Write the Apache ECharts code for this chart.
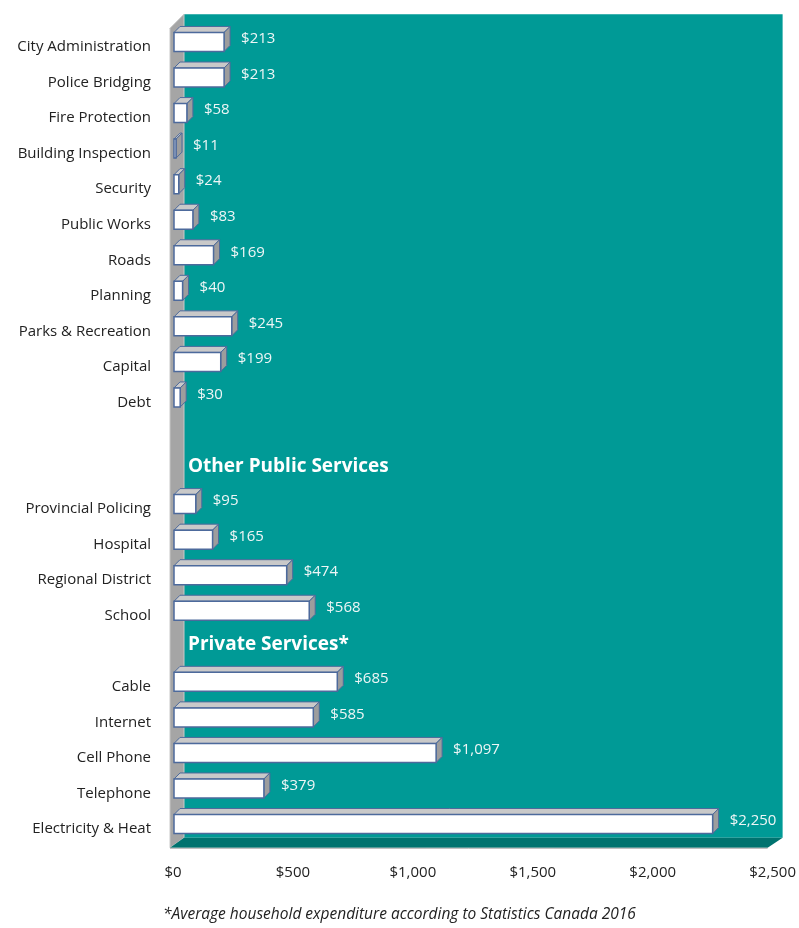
<!DOCTYPE html>
<html>
<head>
<meta charset="utf-8">
<script src="https://cdn.jsdelivr.net/npm/echarts@6/dist/echarts.min.js"></script>
<style>
html,body{margin:0;padding:0;background:#fff;}
#chart{width:799px;height:928px;}
</style>
</head>
<body>
<div id="chart"></div>
<script>
const categories = ['City Administration','Police Bridging','Fire Protection','Building Inspection','Security','Public Works','Roads','Planning','Parks & Recreation','Capital','Debt','','','Provincial Policing','Hospital','Regional District','School','','Cable','Internet','Cell Phone','Telephone','Electricity & Heat'];
const values = [213,213,58,11,24,83,169,40,245,199,30,null,null,95,165,474,568,null,685,585,1097,379,2250];
const headings = ['','','','','','','','','','','','','Other Public Services','','','','','Private Services*','','','','',''];
const xTicks = [0,500,1000,1500,2000,2500];
const footnote = '*Average household expenditure according to Statistics Canada 2016';

const FONT = 'Open Sans';
const fmt = v => '$' + v.toLocaleString('en-US');

const chart = echarts.init(document.getElementById('chart'), null, {renderer:'canvas'});

const barData = [];
values.forEach((v,i)=>{ if(v!=null) barData.push([v,i]); });
const headData = [];
headings.forEach((h,i)=>{ if(h) headData.push([0,i,h]); });

const D = 6, H = 19, YOFF = -5;
const edge = '#4d6a9c';

chart.setOption({
  animation:false,
  grid:{left:173,right:20,top:29.2,bottom:81.2,containLabel:false},
  xAxis:{type:'value',min:xTicks[0],max:xTicks[xTicks.length-1],interval:500,
    axisLine:{show:false},axisTick:{show:false},splitLine:{show:false},
    axisLabel:{formatter:fmt,color:'#222',fontFamily:FONT,fontSize:15,margin:18}},
  yAxis:{type:'category',data:categories,inverse:true,
    axisLine:{show:false},axisTick:{show:false},splitLine:{show:false},
    axisLabel:{color:'#222',fontFamily:FONT,fontSize:15,margin:22}},
  graphic:[{type:'text',left:'center',top:907,style:{text:footnote,font:'italic 15.5px "'+FONT+'"',fill:'#222'}}],
  series:[
    {type:'custom',z:1,data:[[0,0]],silent:true,
      renderItem:(params,api)=>{
        const cs = params.coordSys;
        const L=cs.x, T=cs.y, R=cs.x+cs.width, B=cs.y+cs.height;
        return {type:'group',children:[
          {type:'rect',shape:{x:L+11,y:T-15,width:R+10-(L+11),height:(B-9)-(T-15)},style:{fill:'#009a96'}},
          {type:'polygon',shape:{points:[[L-3,T-1],[L+11,T-15],[L+11,B-9],[L-3,B+1]]},style:{fill:'#a5a5a5',stroke:'#c8c8c8',lineWidth:1}},
          {type:'polygon',shape:{points:[[L-3,B+1],[L+11,B-9],[R+10,B-9],[R-5,B+1]]},style:{fill:'#00736f'}},
          {type:'line',shape:{x1:L-3,y1:B+1.5,x2:R-5,y2:B+1.5},style:{stroke:'#b0b0b0',lineWidth:1}}
        ]};
      }},
    {type:'custom',z:3,data:barData,encode:{x:0,y:1},
      renderItem:(params,api)=>{
        const v=api.value(0), i=api.value(1);
        const p0=api.coord([0,i]), p1=api.coord([v,i]);
        const x0=p0[0]+1, x1=Math.max(p1[0], x0+2);
        const yc=p0[1]+YOFF, yt=yc-H/2, yb=yc+H/2;
        return {type:'group',children:[
          {type:'polygon',shape:{points:[[x0,yt],[x0+D,yt-D],[x1+D,yt-D],[x1,yt]]},
            style:{fill:'#c9c9c9',stroke:edge,lineWidth:1}},
          {type:'polygon',shape:{points:[[x1,yt],[x1+D,yt-D],[x1+D,yb-D],[x1,yb]]},
            style:{fill:'#9d9d9d',stroke:edge,lineWidth:1}},
          {type:'rect',shape:{x:x0,y:yt,width:x1-x0,height:H},
            style:{fill:'#ffffff',stroke:edge,lineWidth:1.5}},
          {type:'text',x:x1+D+11,y:yc-3,style:{text:fmt(v),fill:'#eef6f6',font:'15px "'+FONT+'"',verticalAlign:'middle',align:'left'}}
        ]};
      }},
    {type:'custom',z:4,data:headData,encode:{x:0,y:1},
      renderItem:(params,api)=>{
        const i=api.value(1);
        const p=api.coord([0,i]);
        return {type:'text',x:p[0]+15,y:p[1]-7,style:{text:headData[params.dataIndex][2],fill:'#ffffff',font:'bold 19px "'+FONT+'"',verticalAlign:'middle',align:'left'}};
      }}
  ]
});
</script>
</body>
</html>
